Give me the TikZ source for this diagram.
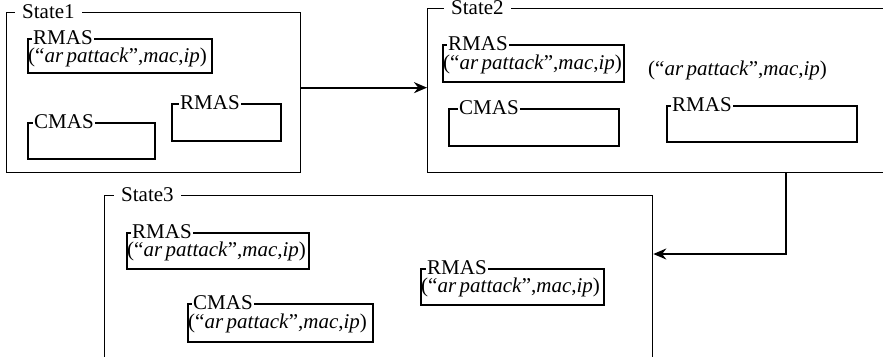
\documentclass[tikz,border=0pt]{standalone}
\usepackage{fontspec}
\setmainfont{Liberation Serif}
\usetikzlibrary{arrows.meta,positioning}

\newcommand{\tuple}{(“\textit{ar\,pattack}”,\textit{mac},\textit{ip})}

\begin{document}
\begin{tikzpicture}[x=1pt,y=-1pt,
  every node/.style={font=\rmfamily\fontsize{21}{24}\selectfont},
  statebox/.style={draw,line width=1.3pt,anchor=north west,inner sep=0pt},
  agentbox/.style={draw,line width=1.8pt,anchor=north west,inner sep=0pt},
  boxlabel/.style={fill=white,anchor=west,inner xsep=1pt,inner ysep=0pt},
  statelabel/.style={fill=white,anchor=west,inner xsep=7pt,inner ysep=0pt},
  content/.style={anchor=west,inner sep=0pt},
  arr/.style={line width=1.8pt,-{Stealth[length=13pt,width=11pt]}}]
  \useasboundingbox (0,0) rectangle (883,356);
  \clip (0,0) rectangle (883,356);

  % state 1
  \node[statebox,minimum width=294pt,minimum height=160pt] (s1) at (6,12) {};
  \node[agentbox,minimum width=184pt,minimum height=34pt] (s1a) at (27,38) {};
  \node[agentbox,minimum width=127pt,minimum height=36pt] (s1b) at (27,122) {};
  \node[agentbox,minimum width=109pt,minimum height=37pt] (s1c) at (171,103) {};
  \node[statelabel] (s1l) at ([xshift=9pt]s1.north west) {State1};
  \node[boxlabel] (s1al) at ([xshift=5pt]s1a.north west) {RMAS};
  \node[boxlabel] (s1bl) at ([xshift=6pt]s1b.north west) {CMAS};
  \node[boxlabel] (s1cl) at ([xshift=8pt]s1c.north west) {RMAS};
  \node[content] (s1at) at ([xshift=1pt,yshift=-19pt]s1a.north west) {\tuple};

  % state 2
  \node[statebox,minimum width=493pt,minimum height=164pt] (s2) at (427,8) {};
  \node[agentbox,minimum width=181pt,minimum height=37pt] (s2a) at (442,44) {};
  \node[agentbox,minimum width=170pt,minimum height=37pt] (s2b) at (448,108) {};
  \node[agentbox,minimum width=190pt,minimum height=36pt] (s2c) at (666,105) {};
  \node[statelabel] (s2l) at ([xshift=17pt]s2.north west) {State2};
  \node[boxlabel] (s2al) at ([xshift=5pt]s2a.north west) {RMAS};
  \node[boxlabel] (s2bl) at ([xshift=10pt]s2b.north west) {CMAS};
  \node[boxlabel] (s2cl) at ([xshift=5pt]s2c.north west) {RMAS};
  \node[content] (s2at) at ([xshift=1pt,yshift=-20pt]s2a.north west) {\tuple};
  \node[content] (s2msg) at (648,70) {\tuple};

  % state 3
  \node[statebox,minimum width=548pt,minimum height=205pt] (s3) at (104,195) {};
  \node[agentbox,minimum width=182pt,minimum height=36pt] (s3a) at (126,232) {};
  \node[agentbox,minimum width=185pt,minimum height=38pt] (s3b) at (187,303) {};
  \node[agentbox,minimum width=183pt,minimum height=36pt] (s3c) at (420,268) {};
  \node[statelabel] (s3l) at ([xshift=10pt]s3.north west) {State3};
  \node[boxlabel] (s3al) at ([xshift=5pt]s3a.north west) {RMAS};
  \node[boxlabel] (s3bl) at ([xshift=5pt]s3b.north west) {CMAS};
  \node[boxlabel] (s3cl) at ([xshift=6pt]s3c.north west) {RMAS};
  \node[content] (s3at) at ([xshift=1pt,yshift=-19pt]s3a.north west) {\tuple};
  \node[content] (s3bt) at ([xshift=1pt,yshift=-20pt]s3b.north west) {\tuple};
  \node[content] (s3ct) at ([xshift=1pt,yshift=-19pt]s3c.north west) {\tuple};

  % transitions
  \draw[arr] ([yshift=5pt]s1.east) -- ([yshift=5pt]s1.east -| s2.west);
  \coordinate (bend) at (786,254);
  \draw[arr] (bend |- s2.south) -- (bend) -- (bend -| s3.east);
\end{tikzpicture}
\end{document}
